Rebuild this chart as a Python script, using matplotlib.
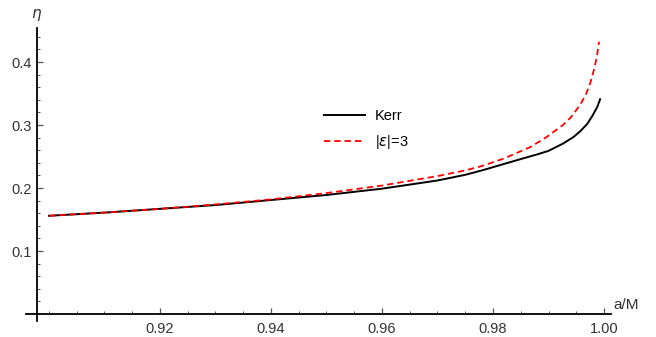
import matplotlib
matplotlib.use("Agg")
import matplotlib.pyplot as plt
from matplotlib.ticker import MultipleLocator, FixedLocator

plt.rcParams['font.family'] = ['Liberation Sans', 'DejaVu Sans']

# values
a_kerr = [0.900, 0.910, 0.920, 0.930, 0.940, 0.950, 0.960, 0.970, 0.975, 0.978, 0.9815,
          0.985, 0.988, 0.990, 0.9926, 0.9945, 0.9957, 0.997, 0.998, 0.9988, 0.9993]
eta_kerr = [0.156, 0.161, 0.167, 0.173, 0.181, 0.189, 0.199, 0.212, 0.221, 0.228, 0.237,
            0.246, 0.2535, 0.259, 0.2705, 0.281, 0.290, 0.302, 0.316, 0.329, 0.341]

a_eps = [0.900, 0.910, 0.920, 0.930, 0.940, 0.950, 0.960, 0.970, 0.975, 0.978, 0.982,
         0.9867, 0.9895, 0.9926, 0.994, 0.9957, 0.9968, 0.9975, 0.9982, 0.9987, 0.9991]
eta_eps = [0.156, 0.161, 0.167, 0.174, 0.182, 0.192, 0.204, 0.219, 0.228, 0.235, 0.247,
           0.265, 0.280, 0.300, 0.312, 0.332, 0.350, 0.366, 0.388, 0.408, 0.432]

xticks = [0.92, 0.94, 0.96, 0.98, 1.00]
xtick_labels = ["0.92", "0.94", "0.96", "0.98", "1.00"]
yticks = [0.1, 0.2, 0.3, 0.4]
ytick_labels = ["0.1", "0.2", "0.3", "0.4"]

W, H = 656, 337
fig = plt.figure(figsize=(W / 100, H / 100), dpi=100)
# axes box in pixels: left 26, right 611, top 28, bottom 321
ax = fig.add_axes([26 / W, (H - 321) / H, (611 - 26) / W, (321 - 28) / H])

ax.plot(a_kerr, eta_kerr, color='black', lw=1.4, label='Kerr')
ax.plot(a_eps, eta_eps, color='red', lw=1.3, ls=(0, (3.5, 2.2)), label=r'|$\epsilon$|=3')

ax.set_xlim(0.89586, 1.00126)
ax.set_ylim(-0.011, 0.454)

for s in ['top', 'right']:
    ax.spines[s].set_visible(False)
ax.spines['left'].set_position(('data', 0.8978))
ax.spines['bottom'].set_position(('data', 0.0))
ax.spines['left'].set_linewidth(1.3)
ax.spines['bottom'].set_linewidth(1.3)

ax.xaxis.set_major_locator(FixedLocator(xticks))
ax.set_xticklabels(xtick_labels)
ax.xaxis.set_minor_locator(MultipleLocator(0.005))
ax.yaxis.set_major_locator(FixedLocator(yticks))
ax.set_yticklabels(ytick_labels)
ax.yaxis.set_minor_locator(MultipleLocator(0.02))

ax.tick_params(which='both', direction='in', colors='#555555', labelcolor='#333333', labelsize=10.5)
ax.tick_params(which='major', length=4, width=0.9)
ax.tick_params(which='minor', length=2.5, width=0.7)
ax.tick_params(axis='x', pad=6)

ax.text(0.8978, 0.475, r'$\eta$', ha='center', va='center', fontsize=11, color='#333333')
ax.text(1.0017, 0.004, 'a/M', ha='left', va='bottom', fontsize=11, color='#333333')

ax.legend(loc='upper left', bbox_to_anchor=((311 - 26) / 585, (321 - 96) / 293),
          frameon=False, fontsize=10.5, handlelength=2.8, handletextpad=0.7, labelspacing=0.7)

fig.savefig('out.png', dpi=100)
